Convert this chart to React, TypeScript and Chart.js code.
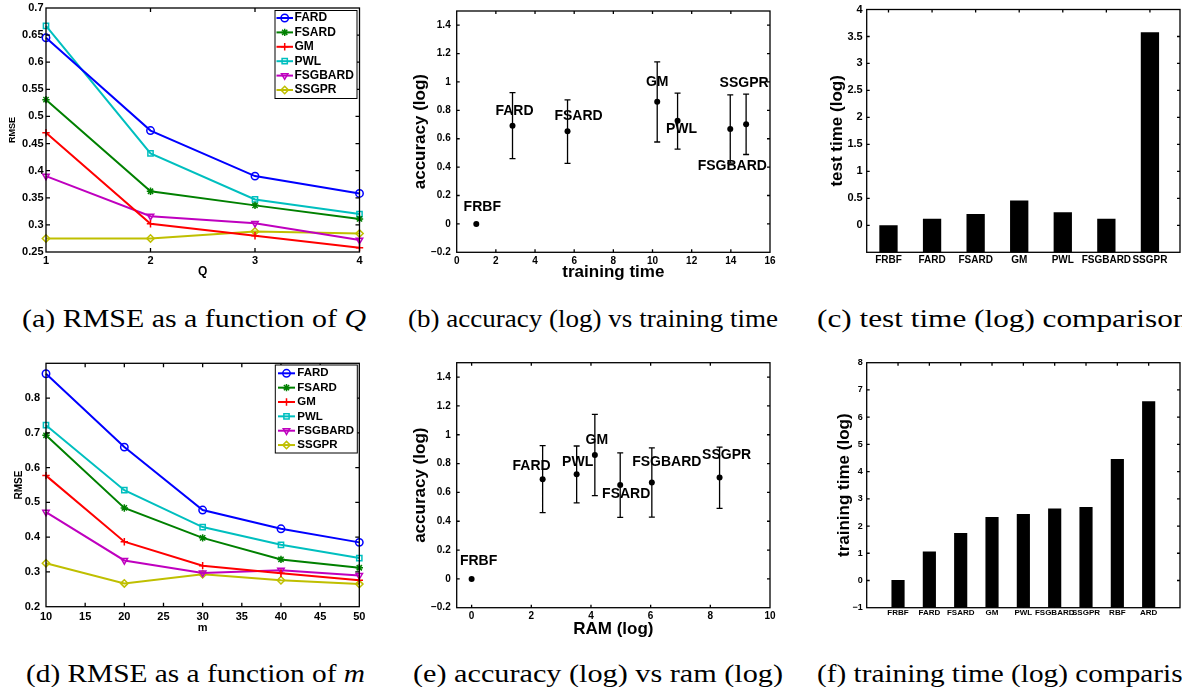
import React, { useEffect, useLayoutEffect, useRef } from 'react';
import { Chart, registerables } from 'chart.js';
import { drawPoint } from 'chart.js/helpers';

Chart.register(...registerables);

// ------------------------------------------------------------------ data
const METHODS = ['FARD', 'FSARD', 'GM', 'PWL', 'FSGBARD', 'SSGPR'];

// (a) RMSE vs Q
const Q_VALUES = [1, 2, 3, 4];
const RMSE_Q_FARD = [0.645, 0.474, 0.39, 0.358];
const RMSE_Q_FSARD = [0.531, 0.362, 0.336, 0.311];
const RMSE_Q_GM = [0.47, 0.302, 0.28, 0.258];
const RMSE_Q_PWL = [0.667, 0.432, 0.347, 0.32];
const RMSE_Q_FSGBARD = [0.39, 0.316, 0.303, 0.272];
const RMSE_Q_SSGPR = [0.275, 0.275, 0.288, 0.284];

// (d) RMSE vs m
const M_VALUES = [10, 20, 30, 40, 50];
const RMSE_M_FARD = [0.87, 0.659, 0.478, 0.424, 0.385];
const RMSE_M_FSARD = [0.693, 0.484, 0.398, 0.336, 0.312];
const RMSE_M_GM = [0.577, 0.387, 0.318, 0.296, 0.276];
const RMSE_M_PWL = [0.722, 0.535, 0.429, 0.378, 0.34];
const RMSE_M_FSGBARD = [0.472, 0.333, 0.297, 0.305, 0.29];
const RMSE_M_SSGPR = [0.325, 0.267, 0.293, 0.276, 0.265];

// (b), (e) accuracy scatter with error bars
const SCATTER_NAMES = ['FRBF', 'FARD', 'FSARD', 'GM', 'PWL', 'FSGBARD', 'SSGPR'];
const ACCURACY = [0, 0.691, 0.652, 0.86, 0.726, 0.668, 0.703];
const ACC_LOW = [null, 0.46, 0.427, 0.577, 0.527, 0.428, 0.489];
const ACC_HIGH = [null, 0.925, 0.874, 1.142, 0.922, 0.909, 0.914];
const TRAIN_TIME = [1.0, 2.85, 5.66, 10.24, 11.28, 13.97, 14.78];
const RAM_LOG = [0, 2.38, 4.98, 4.13, 3.52, 6.04, 8.31];

// (c) test time (log)
const TEST_NAMES = ['FRBF', 'FARD', 'FSARD', 'GM', 'PWL', 'FSGBARD', 'SSGPR'];
const TEST_POS = [1, 2, 3, 4, 5, 6, 7];
const TEST_TIME_LOG = [0.0, 0.12, 0.21, 0.46, 0.24, 0.12, 3.58];

// (f) training time (log)
const TRAIN_NAMES = ['FRBF', 'FARD', 'FSARD', 'GM', 'PWL', 'FSGBARD', 'SSGPR', 'RBF', 'ARD'];
const TRAIN_POS = [1, 2, 3, 4, 5, 6, 7, 8, 9];
const TRAIN_TIME_LOG = [0.02, 1.06, 1.74, 2.33, 2.44, 2.64, 2.7, 4.46, 6.58];

// tick values
const A_X_TICKS = [1, 2, 3, 4];
const A_Y_TICKS = [0.25, 0.3, 0.35, 0.4, 0.45, 0.5, 0.55, 0.6, 0.65, 0.7];
const B_X_TICKS = [0, 2, 4, 6, 8, 10, 12, 14, 16];
const ACC_Y_TICKS = [-0.2, 0, 0.2, 0.4, 0.6, 0.8, 1, 1.2, 1.4];
const C_Y_TICKS = [0, 0.5, 1, 1.5, 2, 2.5, 3, 3.5, 4];
const D_X_TICKS = [10, 15, 20, 25, 30, 35, 40, 45, 50];
const D_Y_TICKS = [0.2, 0.3, 0.4, 0.5, 0.6, 0.7, 0.8];
const E_X_TICKS = [0, 2, 4, 6, 8, 10];
const F_Y_TICKS = [-1, 0, 1, 2, 3, 4, 5, 6, 7, 8];

// ------------------------------------------------------------------ styles
const SANS = "'Liberation Sans', Arial, Helvetica, sans-serif";

const SERIES_STYLE = [
  { color: '#0000FF', pointStyle: 'circle', rotation: 0 },
  { color: '#008000', pointStyle: 'star', rotation: 0 },
  { color: '#FF0000', pointStyle: 'cross', rotation: 0 },
  { color: '#00BFBF', pointStyle: 'rect', rotation: 0 },
  { color: '#BF00BF', pointStyle: 'triangle', rotation: 180 },
  { color: '#BFBF00', pointStyle: 'rectRot', rotation: 0 },
];

// label offsets (px) relative to points
const B_LABEL_OFFSETS = [[6, -17], [2, -15], [11, -15], [0, -20], [4, 8], [2, 37], [-2, -41]];
const E_LABEL_OFFSETS = [[7, -18], [-11, -13], [6, 9], [2, -15], [1, -12], [15, -20], [7, -22]];

// panel geometry: canvas [x, y, w, h] and plot area [left, top, right, bottom] in page px
const P_A = { canvas: [0, 0, 400, 295], area: [46, 7.5, 359.5, 252] };
const P_B = { canvas: [395, 0, 390, 295], area: [456.7, 7.3, 770, 252.3] };
const P_C = { canvas: [790, 0, 392, 295], area: [866.7, 7.3, 1180, 252.3] };
const P_D = { canvas: [0, 340, 400, 300], area: [46, 363.3, 359.3, 606.7] };
const P_E = { canvas: [395, 340, 390, 300], area: [456.7, 362.7, 770, 607.7] };
const P_F = { canvas: [790, 340, 392, 300], area: [866.7, 362.7, 1180, 607.7] };

// ------------------------------------------------------------------ helpers
const fnt = (family: string, size: number) => ({ family, size, weight: 'bold' as const, lineHeight: 1 });

const fmt = (v: number) => {
  const r = Math.round(v * 100) / 100;
  return (r < 0 ? '\u2212' : '') + String(Math.abs(r));
};

function geometry(p: any) {
  const [cx, cy, cw, ch] = p.canvas;
  const [L, T, R, B] = p.area;
  return { padding: { left: 0, top: T - cy, right: cx + cw - R, bottom: 0 }, yW: L - cx, xH: cy + ch - B };
}

function axis(o: any) {
  const isX = o.isX;
  const s: any = {
    type: 'linear',
    offset: false,
    min: o.min,
    max: o.max,
    grid: { display: false, drawTicks: false },
    border: { display: false },
    afterBuildTicks: (sc: any) => {
      sc.ticks = o.ticks.map((v: number) => ({ value: v }));
    },
    afterFit: (sc: any) => {
      if (isX) sc.height = o.fit;
      else sc.width = o.fit;
    },
    ticks: {
      font: o.font,
      color: '#000',
      padding: o.pad,
      autoSkip: false,
      maxRotation: 0,
      minRotation: 0,
      callback: o.format || ((v: number) => fmt(v)),
    },
    title: o.title
      ? {
          display: true,
          text: o.title,
          color: '#000',
          font: o.titleFont,
          padding: isX ? { top: 0, bottom: o.titlePad } : { top: o.titlePad, bottom: 0 },
        }
      : { display: false },
  };
  return s;
}

const nameAt = (pos: number[], names: string[]) => (v: number) => {
  const k = pos.indexOf(v);
  return k >= 0 ? names[k] : '';
};

function framePlugin(len: number) {
  return {
    id: 'frame',
    afterDatasetsDraw(chart: any) {
      const { ctx, chartArea: a, scales } = chart;
      const xs = scales.x;
      const ys = scales.y;
      ctx.save();
      ctx.strokeStyle = '#000';
      ctx.lineWidth = 1.3;
      ctx.beginPath();
      xs.ticks.forEach((_t: any, i: number) => {
        const px = xs.getPixelForTick(i);
        if (px <= a.left + 0.6 || px >= a.right - 0.6) return;
        ctx.moveTo(px, a.bottom);
        ctx.lineTo(px, a.bottom - len);
        ctx.moveTo(px, a.top);
        ctx.lineTo(px, a.top + len);
      });
      ys.ticks.forEach((_t: any, i: number) => {
        const py = ys.getPixelForTick(i);
        if (py <= a.top + 0.6 || py >= a.bottom - 0.6) return;
        ctx.moveTo(a.left, py);
        ctx.lineTo(a.left + len, py);
        ctx.moveTo(a.right, py);
        ctx.lineTo(a.right - len, py);
      });
      ctx.stroke();
      ctx.strokeRect(a.left, a.top, a.right - a.left, a.bottom - a.top);
      ctx.restore();
    },
  };
}

function boxLegendPlugin(cfg: any) {
  return {
    id: 'boxLegend',
    afterDraw(chart: any) {
      const { ctx, chartArea: a } = chart;
      const x0 = a.right - cfg.right - cfg.w;
      const y0 = a.top + cfg.top;
      ctx.save();
      ctx.fillStyle = '#fff';
      ctx.fillRect(x0, y0, cfg.w, cfg.h);
      ctx.strokeStyle = '#000';
      ctx.lineWidth = 1;
      ctx.strokeRect(x0, y0, cfg.w, cfg.h);
      ctx.font = `bold ${cfg.size}px ${SANS}`;
      ctx.textBaseline = 'middle';
      ctx.textAlign = 'left';
      chart.data.datasets.forEach((ds: any, i: number) => {
        const y = y0 + cfg.firstRow + i * cfg.rowH;
        ctx.strokeStyle = ds.borderColor;
        ctx.lineWidth = ds.borderWidth;
        ctx.beginPath();
        ctx.moveTo(x0 + cfg.lineFrom, y);
        ctx.lineTo(x0 + cfg.lineTo, y);
        ctx.stroke();
        ctx.lineWidth = ds.pointBorderWidth;
        ctx.fillStyle = 'rgba(0,0,0,0)';
        drawPoint(
          ctx,
          { pointStyle: ds.pointStyle, rotation: ds.pointRotation, radius: ds.pointRadius, borderWidth: ds.pointBorderWidth } as any,
          x0 + cfg.marker,
          y
        );
        ctx.fillStyle = '#000';
        ctx.fillText(ds.label, x0 + cfg.text, y);
      });
      ctx.restore();
    },
  };
}

function errorBarPlugin(lo: any[], hi: any[], cap: number) {
  return {
    id: 'errorBars',
    beforeDatasetsDraw(chart: any) {
      const { ctx } = chart;
      const xs = chart.scales.x;
      const ys = chart.scales.y;
      const data = chart.data.datasets[0].data;
      ctx.save();
      ctx.strokeStyle = '#000';
      ctx.lineWidth = 1.3;
      ctx.beginPath();
      data.forEach((p: any, i: number) => {
        if (lo[i] == null || hi[i] == null) return;
        const x = xs.getPixelForValue(p.x);
        const y1 = ys.getPixelForValue(lo[i]);
        const y2 = ys.getPixelForValue(hi[i]);
        ctx.moveTo(x, y1);
        ctx.lineTo(x, y2);
        ctx.moveTo(x - cap, y1);
        ctx.lineTo(x + cap, y1);
        ctx.moveTo(x - cap, y2);
        ctx.lineTo(x + cap, y2);
      });
      ctx.stroke();
      ctx.restore();
    },
  };
}

function pointLabelPlugin(names: string[], offsets: number[][], size: number) {
  return {
    id: 'pointLabels',
    afterDatasetsDraw(chart: any) {
      const { ctx } = chart;
      const meta = chart.getDatasetMeta(0);
      ctx.save();
      ctx.font = `bold ${size}px ${SANS}`;
      ctx.fillStyle = '#000';
      ctx.textAlign = 'center';
      ctx.textBaseline = 'middle';
      meta.data.forEach((el: any, i: number) => {
        ctx.fillText(names[i], el.x + offsets[i][0], el.y + offsets[i][1]);
      });
      ctx.restore();
    },
  };
}

function baseOptions(g: any, scales: any) {
  return {
    responsive: false,
    maintainAspectRatio: false,
    animation: false,
    devicePixelRatio: 1,
    events: [],
    layout: { padding: g.padding },
    plugins: { legend: { display: false }, tooltip: { enabled: false }, title: { display: false } },
    scales,
  };
}

function lineDatasets(xs: number[], series: number[][]) {
  return series.map((vals, k) => ({
    label: METHODS[k],
    data: xs.map((x, i) => ({ x, y: vals[i] })),
    borderColor: SERIES_STYLE[k].color,
    backgroundColor: 'rgba(0,0,0,0)',
    borderWidth: 2,
    pointStyle: SERIES_STYLE[k].pointStyle,
    pointRotation: SERIES_STYLE[k].rotation,
    pointRadius: 3.7,
    pointBorderWidth: 1.5,
    pointBorderColor: SERIES_STYLE[k].color,
    pointBackgroundColor: 'rgba(0,0,0,0)',
    tension: 0,
    clip: false,
  }));
}

// ------------------------------------------------------------------ chart builders
function buildA() {
  const g = geometry(P_A);
  const series = [RMSE_Q_FARD, RMSE_Q_FSARD, RMSE_Q_GM, RMSE_Q_PWL, RMSE_Q_FSGBARD, RMSE_Q_SSGPR];
  return {
    type: 'line',
    data: { datasets: lineDatasets(Q_VALUES, series) },
    options: baseOptions(g, {
      x: axis({ isX: true, min: 1, max: 4, ticks: A_X_TICKS, font: fnt(SANS, 11), pad: 3.5, fit: g.xH, title: 'Q', titleFont: fnt(SANS, 12), titlePad: 17 }),
      y: axis({ isX: false, min: 0.25, max: 0.7, ticks: A_Y_TICKS, font: fnt(SANS, 11), pad: 2.5, fit: g.yW, title: 'RMSE', titleFont: fnt(SANS, 9), titlePad: 8.5 }),
    }),
    plugins: [
      framePlugin(4),
      boxLegendPlugin({ right: 2.5, top: 2.5, w: 82, h: 88, firstRow: 7.5, rowH: 14.4, lineFrom: 1.5, lineTo: 18, marker: 9.7, text: 19.5, size: 12 }),
    ],
  };
}

function buildD() {
  const g = geometry(P_D);
  const series = [RMSE_M_FARD, RMSE_M_FSARD, RMSE_M_GM, RMSE_M_PWL, RMSE_M_FSGBARD, RMSE_M_SSGPR];
  return {
    type: 'line',
    data: { datasets: lineDatasets(M_VALUES, series) },
    options: baseOptions(g, {
      x: axis({ isX: true, min: 10, max: 50, ticks: D_X_TICKS, font: fnt(SANS, 11), pad: 5, fit: g.xH, title: 'm', titleFont: fnt(SANS, 11), titlePad: 6.5 }),
      y: axis({ isX: false, min: 0.2, max: 0.9, ticks: D_Y_TICKS, font: fnt(SANS, 11), pad: 6, fit: g.yW, title: 'RMSE', titleFont: fnt(SANS, 10), titlePad: 14.5 }),
    }),
    plugins: [
      framePlugin(4),
      boxLegendPlugin({ right: 2, top: 1.7, w: 82, h: 88, firstRow: 8.3, rowH: 14.35, lineFrom: 2.7, lineTo: 19.7, marker: 11.2, text: 22, size: 11.5 }),
    ],
  };
}

function buildScatter(p: any, xsVals: number[], xMin: number, xMax: number, xTicks: number[], xTitle: string, xTitlePad: number, offsets: number[][]) {
  const g = geometry(p);
  return {
    type: 'scatter',
    data: {
      datasets: [
        {
          label: 'accuracy',
          data: xsVals.map((x, i) => ({ x, y: ACCURACY[i] })),
          backgroundColor: '#000',
          borderColor: '#000',
          pointRadius: 3,
          pointBorderWidth: 0,
          showLine: false,
          clip: false,
        },
      ],
    },
    options: baseOptions(g, {
      x: axis({ isX: true, min: xMin, max: xMax, ticks: xTicks, font: fnt(SANS, 10), pad: 3.5, fit: g.xH, title: xTitle, titleFont: fnt(SANS, 17), titlePad: xTitlePad }),
      y: axis({ isX: false, min: -0.2, max: 1.5, ticks: ACC_Y_TICKS, font: fnt(SANS, 10), pad: 6, fit: g.yW, title: 'accuracy (log)', titleFont: fnt(SANS, 17), titlePad: 16.5 }),
    }),
    plugins: [errorBarPlugin(ACC_LOW, ACC_HIGH, 3), framePlugin(3), pointLabelPlugin(SCATTER_NAMES, offsets, 14)],
  };
}

function buildB() {
  return buildScatter(P_B, TRAIN_TIME, 0, 16, B_X_TICKS, 'training time', 14.5, B_LABEL_OFFSETS);
}

function buildE() {
  return buildScatter(P_E, RAM_LOG, -0.5, 10, E_X_TICKS, 'RAM (log)', 2.5, E_LABEL_OFFSETS);
}

function buildC() {
  const g = geometry(P_C);
  return {
    type: 'bar',
    data: {
      datasets: [
        {
          label: 'test time (log)',
          data: TEST_POS.map((x, i) => ({ x, y: TEST_TIME_LOG[i] })),
          backgroundColor: '#000',
          borderWidth: 0,
          base: -0.5,
          barPercentage: 0.42,
          categoryPercentage: 1,
        },
      ],
    },
    options: baseOptions(g, {
      x: axis({ isX: true, min: 0.5, max: 7.69, ticks: TEST_POS, font: fnt(SANS, 10), pad: 3, fit: g.xH, format: nameAt(TEST_POS, TEST_NAMES) }),
      y: axis({ isX: false, min: -0.5, max: 4, ticks: C_Y_TICKS, font: fnt(SANS, 11), pad: 4, fit: g.yW, title: 'test time (log)', titleFont: fnt(SANS, 17), titlePad: 39 }),
    }),
    plugins: [framePlugin(3)],
  };
}

function buildF() {
  const g = geometry(P_F);
  return {
    type: 'bar',
    data: {
      datasets: [
        {
          label: 'training time (log)',
          data: TRAIN_POS.map((x, i) => ({ x, y: TRAIN_TIME_LOG[i] })),
          backgroundColor: '#000',
          borderWidth: 0,
          base: -1,
          barPercentage: 0.42,
          categoryPercentage: 1,
        },
      ],
    },
    options: baseOptions(g, {
      x: axis({ isX: true, min: 0, max: 10, ticks: TRAIN_POS, font: fnt(SANS, 8), pad: 1.5, fit: g.xH, format: nameAt(TRAIN_POS, TRAIN_NAMES) }),
      y: axis({ isX: false, min: -1, max: 8, ticks: F_Y_TICKS, font: fnt(SANS, 9), pad: 4, fit: g.yW, title: 'training time (log)', titleFont: fnt(SANS, 17), titlePad: 45.5 }),
    }),
    plugins: [framePlugin(3)],
  };
}

// ------------------------------------------------------------------ components
function ChartPanel({ rect, build }: { rect: number[]; build: () => any }) {
  const ref = useRef<HTMLCanvasElement>(null);
  useEffect(() => {
    const chart = new Chart(ref.current as HTMLCanvasElement, build() as any);
    return () => chart.destroy();
  }, []);
  return (
    <canvas
      ref={ref}
      width={rect[2]}
      height={rect[3]}
      style={{ position: 'absolute', left: rect[0], top: rect[1], width: rect[2], height: rect[3] }}
    />
  );
}

function Caption({ x, y, target, scale, children }: { x: number; y: number; target?: number; scale?: number; children: any }) {
  const ref = useRef<HTMLDivElement>(null);
  useLayoutEffect(() => {
    const el = ref.current;
    if (!el) return;
    el.style.transform = 'none';
    const w = el.getBoundingClientRect().width;
    const s = target ? target / w : scale || 1;
    el.style.transform = `scaleX(${s})`;
  }, []);
  return (
    <div
      ref={ref}
      style={{
        position: 'absolute',
        left: x,
        top: y,
        whiteSpace: 'nowrap',
        fontFamily: "'Liberation Serif', 'Times New Roman', serif",
        fontSize: 25,
        lineHeight: '25px',
        color: '#000',
        transformOrigin: '0 0',
      }}
    >
      {children}
    </div>
  );
}

export default function App() {
  return (
    <div
      style={{
        position: 'absolute',
        left: 0,
        top: 0,
        width: 1182,
        height: 687,
        overflow: 'hidden',
        background: '#fff',
      }}
    >
      <ChartPanel rect={P_A.canvas} build={buildA} />
      <ChartPanel rect={P_B.canvas} build={buildB} />
      <ChartPanel rect={P_C.canvas} build={buildC} />
      <ChartPanel rect={P_D.canvas} build={buildD} />
      <ChartPanel rect={P_E.canvas} build={buildE} />
      <ChartPanel rect={P_F.canvas} build={buildF} />
      <Caption x={22} y={306} target={344}>
        (a) RMSE as a function of <i>Q</i>
      </Caption>
      <Caption x={408} y={306} target={370}>
        (b) accuracy (log) vs training time
      </Caption>
      <Caption x={817} y={306} scale={1.25}>
        (c) test time (log) comparison
      </Caption>
      <Caption x={26} y={661} target={339}>
        (d) RMSE as a function of <i>m</i>
      </Caption>
      <Caption x={413} y={661} target={370}>
        (e) accuracy (log) vs ram (log)
      </Caption>
      <Caption x={817} y={661} scale={1.17}>
        (f) training time (log) comparison
      </Caption>
    </div>
  );
}
